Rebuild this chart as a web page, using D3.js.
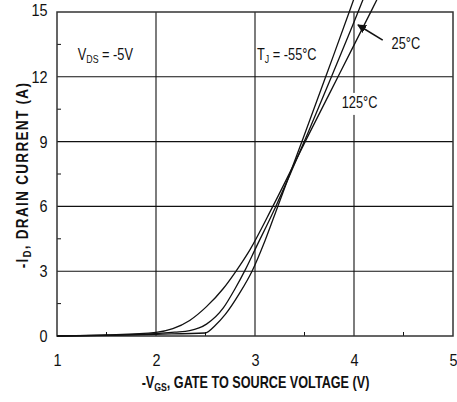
<!DOCTYPE html>
<html>
<head>
<meta charset="utf-8">
<script src="https://cdn.jsdelivr.net/npm/d3@7/dist/d3.min.js"></script>
<style>
  body { margin: 0; background: #fff; }
  svg text { font-family: "Liberation Sans Narrow", "Arial Narrow", "Liberation Sans", Arial, sans-serif; fill: #111; }
</style>
</head>
<body>
<div id="chart"></div>
<script>
// axis values
var xTicks = [1, 2, 3, 4, 5];
var yTicks = [0, 3, 6, 9, 12, 15];
var xMinor = [1.5, 2.5, 3.5, 4.5];
var yMinor = [1.5, 4.5, 7.5, 10.5, 13.5];

// -VGS (V), -ID (A)
var tempNames = ['-55', '25', '125'];
var curveM55 = [[1.0, 0], [1.54, 0.03], [2.0, 0.08], [2.495, 0.14], [2.6, 0.5], [2.7, 1.0], [2.84, 1.95],
  [2.97, 3.0], [3.1, 4.4], [3.23, 6.0], [3.36, 7.6], [3.49, 9.2], [3.73, 12.2], [3.96, 15.1], [4.01, 15.75]];
var curve25 = [[1.0, 0], [1.54, 0.04], [2.0, 0.11], [2.19, 0.18], [2.34, 0.25], [2.51, 0.55], [2.68, 1.3],
  [2.8, 2.2], [2.9, 3.05], [3.0, 4.0], [3.21, 6.0], [3.37, 7.65], [3.53, 9.35], [3.79, 12.2],
  [4.05, 15.1], [4.1, 15.68]];
var curve125 = [[1.0, 0], [1.5, 0.05], [2.0, 0.17], [2.17, 0.34], [2.34, 0.72], [2.51, 1.36], [2.68, 2.2],
  [2.8, 2.95], [2.95, 4.0], [3.18, 6.0], [3.54, 9.3], [3.86, 12.2], [4.18, 15.1], [4.24, 15.65]];

var width = 457, height = 402;
var margin = {top: 12, right: 4, bottom: 66, left: 57};
var squeeze = 0.8; // condensed look of the original lettering

var svg = d3.select('#chart').append('svg')
  .attr('width', width).attr('height', height);

var x = d3.scaleLinear().domain([1, 5]).range([margin.left, width - margin.right]);
var y = d3.scaleLinear().domain([0, 15]).range([height - margin.bottom, margin.top]);

// grid
svg.append('g').selectAll('line').data(xTicks.slice(1, -1)).enter().append('line')
  .attr('x1', d => x(d)).attr('x2', d => x(d))
  .attr('y1', y(0)).attr('y2', y(15))
  .attr('stroke', '#111').attr('stroke-width', 1.1);
svg.append('g').selectAll('line').data(yTicks.slice(1, -1)).enter().append('line')
  .attr('x1', x(1)).attr('x2', x(5))
  .attr('y1', d => y(d)).attr('y2', d => y(d))
  .attr('stroke', '#111').attr('stroke-width', 1.1);

// minor ticks
svg.append('g').selectAll('line').data(xMinor).enter().append('line')
  .attr('x1', d => x(d)).attr('x2', d => x(d))
  .attr('y1', y(0)).attr('y2', y(0) - 4)
  .attr('stroke', '#111');
svg.append('g').selectAll('line').data(yMinor).enter().append('line')
  .attr('x1', x(1)).attr('x2', x(1) + 4)
  .attr('y1', d => y(d)).attr('y2', d => y(d))
  .attr('stroke', '#111');

// frame
svg.append('rect')
  .attr('x', x(1)).attr('y', y(15))
  .attr('width', x(5) - x(1)).attr('height', y(0) - y(15))
  .attr('fill', 'none').attr('stroke', '#333').attr('stroke-width', 1.5);

// tick labels
var xAxis = svg.append('g')
  .attr('transform', 'translate(0,' + y(0) + ')')
  .call(d3.axisBottom(x).tickValues(xTicks).tickSize(0).tickPadding(18).tickFormat(d3.format('d')));
var yAxis = svg.append('g')
  .attr('transform', 'translate(' + x(1) + ',0)')
  .call(d3.axisLeft(y).tickValues(yTicks).tickSize(0).tickPadding(11).tickFormat(d3.format('d')));
svg.selectAll('.domain').remove();
svg.selectAll('.tick text')
  .attr('font-family', null)
  .attr('font-size', 17).attr('fill', '#222')
  .attr('transform', 'scale(0.85,1)');
yAxis.selectAll('.tick text').filter(d => d === 15).attr('dy', '0.22em');

// curves
var line = d3.line()
  .x(d => x(d[0])).y(d => y(d[1]))
  .curve(d3.curveMonotoneX);
svg.append('g').selectAll('path').data([curveM55, curve25, curve125]).enter().append('path')
  .attr('d', line)
  .attr('fill', 'none').attr('stroke', '#111').attr('stroke-width', 1.3);

// condensed text helper
function label(px, py, anchor) {
  return svg.append('text')
    .attr('transform', 'translate(' + px + ',' + py + ') scale(' + squeeze + ',1)')
    .attr('text-anchor', anchor || 'start')
    .attr('font-size', 16);
}

var vds = label(x(1.21), y(12.78));
vds.append('tspan').text('V');
vds.append('tspan').text('DS').attr('font-size', 11).attr('dy', 3);
vds.append('tspan').text(' = -5V').attr('dy', -3);

var tj = label(x(3.02), y(12.78));
tj.append('tspan').text('T');
tj.append('tspan').text('J').attr('font-size', 11).attr('dy', 3);
tj.append('tspan').text(' = ' + tempNames[0] + '\u00B0C').attr('dy', -3);

label(x(4.38), y(13.29)).text(tempNames[1] + '\u00B0C');

svg.append('rect')
  .attr('x', x(4.056) - 19).attr('y', y(10.56) - 15)
  .attr('width', 38).attr('height', 22).attr('fill', '#fff');
label(x(4.056), y(10.56), 'middle').text(tempNames[2] + '\u00B0C');

// arrow to 25C curve
svg.append('defs').append('marker')
  .attr('id', 'ah').attr('viewBox', '0 0 10 10')
  .attr('refX', 9).attr('refY', 5)
  .attr('markerWidth', 9).attr('markerHeight', 9)
  .attr('markerUnits', 'userSpaceOnUse')
  .attr('orient', 'auto')
  .append('path').attr('d', 'M0,0 L10,5 L0,10 Z').attr('fill', '#111');
svg.append('line')
  .attr('x1', x(4.29)).attr('y1', y(13.7))
  .attr('x2', x(4.04)).attr('y2', y(14.4))
  .attr('stroke', '#111').attr('stroke-width', 1.6)
  .attr('marker-end', 'url(#ah)');

// axis titles
var xt = svg.append('text')
  .attr('transform', 'translate(' + ((x(1) + x(5)) / 2 + 0.5) + ',388) scale(0.79,1)')
  .attr('text-anchor', 'middle')
  .attr('font-size', 16).attr('font-weight', 'bold');
xt.append('tspan').text('-V');
xt.append('tspan').text('GS').attr('font-size', 11).attr('dy', 3);
xt.append('tspan').text(', GATE TO SOURCE VOLTAGE (V)').attr('dy', -3);

var yt = svg.append('text')
  .attr('transform', 'translate(28,' + ((y(0) + y(15)) / 2 + 1) + ') rotate(-90) scale(0.85,1)')
  .attr('text-anchor', 'middle')
  .attr('font-size', 16).attr('font-weight', 'bold')
  .attr('letter-spacing', 1.5);
yt.append('tspan').text('-I');
yt.append('tspan').text('D').attr('font-size', 11).attr('dy', 3);
yt.append('tspan').text(', DRAIN CURRENT (A)').attr('dy', -3);
</script>
</body>
</html>
